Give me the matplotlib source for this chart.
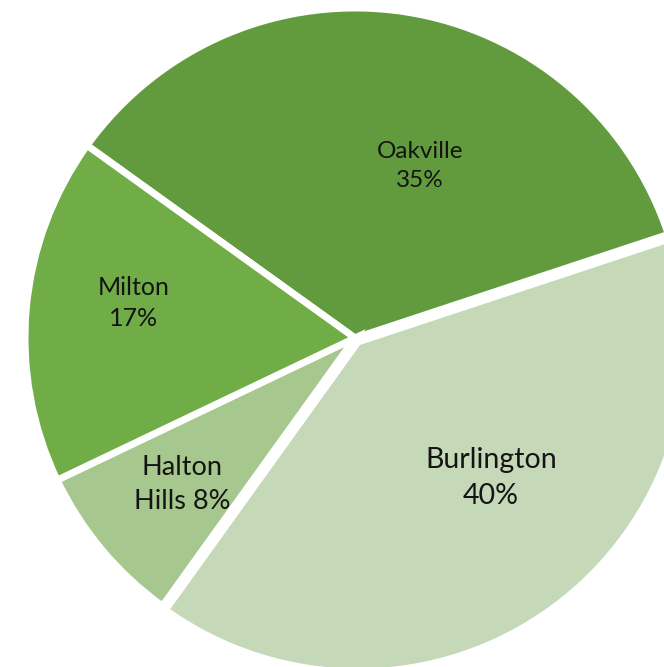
import matplotlib.pyplot as plt

# Share of total by municipality
towns = ['Oakville', 'Burlington', 'Halton Hills', 'Milton']
shares = [35, 40, 8, 17]
colors = ['#629B3E', '#C5D9B9', '#A6C78D', '#70AD47']
explode = [0, 0.015, 0, 0]

# label text, its position inside the pie and its size
label_text = ['Oakville\n35%', 'Burlington\n40%', 'Halton\nHills 8%', 'Milton\n17%']
label_xy = [(0.197, 0.521), (0.412, -0.424), (-0.524, -0.445), (-0.670, 0.106)]
label_size = [17.5, 20.5, 19.5, 18]

plt.rcParams['font.family'] = ['Lato', 'DejaVu Sans']

fig = plt.figure(figsize=(6.64, 6.67), dpi=100, facecolor='white')
r = 330
cx, cy = 355, 338
ax = fig.add_axes([(cx - r) / 664, 1 - (cy + r) / 667, 2 * r / 664, 2 * r / 667])

ax.pie(shares, colors=colors, explode=explode, startangle=144.3,
       counterclock=False, radius=1,
       wedgeprops=dict(edgecolor='white', linewidth=5))

for txt, (x, y), fs in zip(label_text, label_xy, label_size):
    ax.text(x, y, txt, ha='center', va='center', fontsize=fs,
            color='#141414', linespacing=1.45)

ax.set_xlim(-1, 1)
ax.set_ylim(-1, 1)
ax.set_aspect('auto')
ax.axis('off')

fig.savefig('out.png', dpi=100)
